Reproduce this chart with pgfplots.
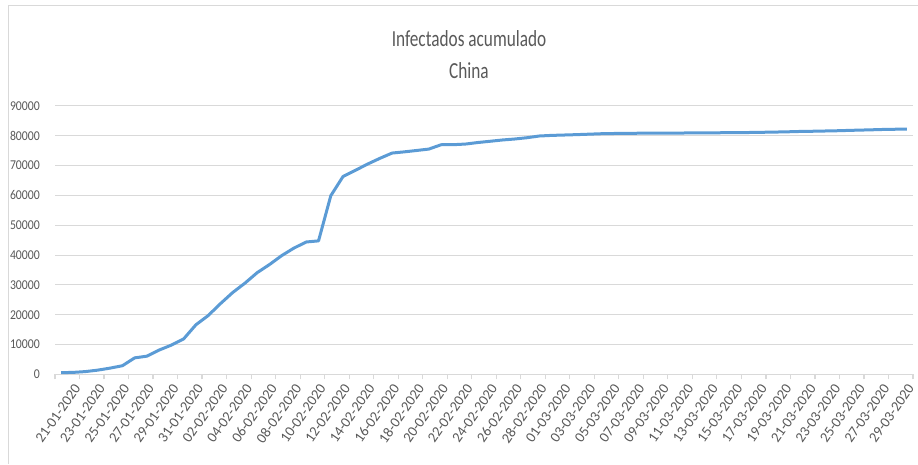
\documentclass[border=0pt]{standalone}
\usepackage{fontspec}
\usepackage{pgfplots}
\pgfplotsset{compat=1.18}
\setmainfont{Carlito}
\newfontfamily\titlefont[FakeStretch=0.75]{Carlito}
\newfontfamily\ylabfont[FakeStretch=0.87]{Carlito}
\definecolor{serie}{HTML}{5B9BD5}
\definecolor{rejilla}{HTML}{D9D9D9}
\definecolor{texto}{HTML}{595959}

\begin{document}
\begin{tikzpicture}
% chart area frame
\draw[rejilla, line width=1.5pt] (8.5pt,0pt) -- (8.5pt,458.5pt) -- (930pt,458.5pt);
% title
\node[anchor=base, text=texto, inner sep=0pt] at (469pt,417pt)
  {\titlefont\fontsize{23}{23}\selectfont Infectados acumulado};
\node[anchor=base, text=texto, inner sep=0pt] at (469pt,385pt)
  {\titlefont\fontsize{23}{23}\selectfont China};
\begin{axis}[
  at={(55pt,89.7pt)}, anchor=origin,
  scale only axis, width=858pt, height=268.3pt,
  xmin=0, xmax=70, ymin=0, ymax=90000,
  axis x line*=bottom, axis y line*=left,
  x axis line style={draw=rejilla, line width=1.3pt},
  y axis line style={draw=none},
  % tick marks sit between days, labels on every second day
  xtick={0,2,...,70},
  xticklabels={21-01-2020,23-01-2020,25-01-2020,27-01-2020,29-01-2020,31-01-2020,
    02-02-2020,04-02-2020,06-02-2020,08-02-2020,10-02-2020,12-02-2020,14-02-2020,
    16-02-2020,18-02-2020,20-02-2020,22-02-2020,24-02-2020,26-02-2020,28-02-2020,
    01-03-2020,03-03-2020,05-03-2020,07-03-2020,09-03-2020,11-03-2020,13-03-2020,
    15-03-2020,17-03-2020,19-03-2020,21-03-2020,23-03-2020,25-03-2020,27-03-2020,
    29-03-2020,{}},
  major tick length=5pt, tick align=outside,
  x tick style={draw=rejilla, line width=1.2pt},
  xticklabel style={font=\fontsize{14.5}{14.5}\selectfont, text=texto,
    rotate=55, anchor=north east, inner sep=0pt, yshift=-17pt, xshift=7.8pt},
  ytick={0,10000,...,90000},
  scaled y ticks=false,
  yticklabels={0,10000,20000,30000,40000,50000,60000,70000,80000,90000},
  y tick style={draw=none},
  yticklabel style={font=\ylabfont\fontsize{13.5}{13.5}\selectfont, text=texto,
    anchor=east, inner sep=0pt, xshift=-10pt},
  ymajorgrids, grid style={draw=rejilla, line width=1pt},
  clip=false,
]
% cumulative confirmed cases, one row per day from 21-01-2020
\addplot[serie, line width=3pt, line join=round, mark=none]
  table[x expr=\thisrow{d}+0.5, y=casos] {
d casos
0 548
1 643
2 920
3 1406
4 2075
5 2877
6 5509
7 6087
8 8141
9 9802
10 11891
11 16630
12 19716
13 23707
14 27440
15 30587
16 34110
17 36814
18 39829
19 42354
20 44386
21 44759
22 59895
23 66358
24 68413
25 70513
26 72434
27 74211
28 74619
29 75077
30 75550
31 77001
32 77022
33 77241
34 77754
35 78166
36 78600
37 78928
38 79356
39 79932
40 80136
41 80261
42 80386
43 80537
44 80690
45 80770
46 80823
47 80860
48 80887
49 80921
50 80932
51 80945
52 80977
53 81003
54 81033
55 81058
56 81102
57 81156
58 81250
59 81305
60 81435
61 81498
62 81591
63 81661
64 81782
65 81897
66 81999
67 82122
68 82198
69 82279
};
\end{axis}
\pgfresetboundingbox
\useasboundingbox (0pt,0pt) rectangle (918pt,464pt);
\end{tikzpicture}
\end{document}
